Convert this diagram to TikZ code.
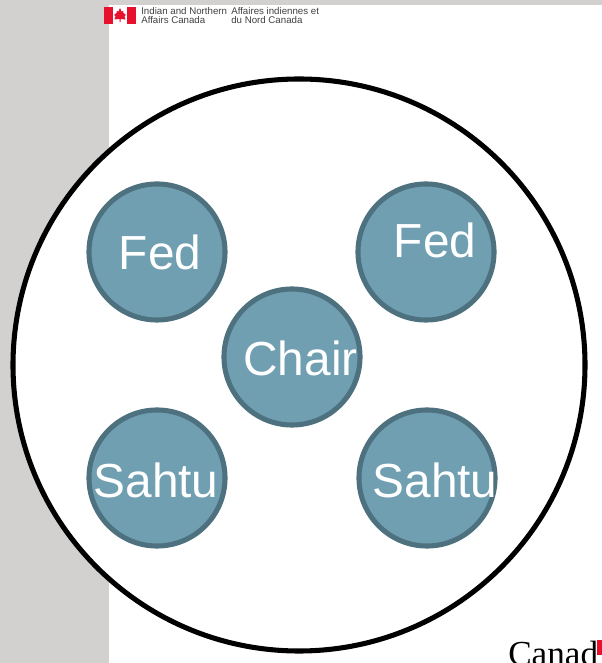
\documentclass[tikz,border=0pt]{standalone}
\usepackage{fontspec}
\setmainfont{Liberation Sans}
\newfontfamily\wordfont{Liberation Serif}
\definecolor{panelgrey}{HTML}{D2D1CF}
\definecolor{seatfill}{HTML}{6F9FB1}
\definecolor{seatedge}{HTML}{4E7180}
\definecolor{flagred}{HTML}{E8112D}
\tikzset{
	seat/.style={circle, draw=seatedge, fill=seatfill, line width=3.6pt, minimum size=3.4cm, inner sep=0pt},
	seatname/.style={text=white, font=\fontsize{34}{34}\selectfont, inner sep=0pt},
	deptname/.style={text=black!75, font=\fontsize{6.9}{6.6}\selectfont, align=left, inner sep=0pt, anchor=north west},
}

\begin{document}
\begin{tikzpicture}[x=0.025cm, y=0.025cm]
	%%%%% START %%%%%
	\clip (0, 0) rectangle (602, 663);
	\useasboundingbox (0, 0) rectangle (602, 663);

	\fill[panelgrey] (0, 0) rectangle (109, 663);
	\fill[panelgrey] (0, 658) rectangle (602, 663);

	% flag and department names
	\fill[white] (104, 639) rectangle (136, 656);
	\fill[flagred] (104, 639) rectangle (113, 656);
	\fill[flagred] (127, 639) rectangle (136, 656);
	\fill[flagred] (119.5, 641) -- (119.5, 644) -- (114.5, 643.5) -- (115.5, 647) -- (114, 648) -- (117, 650.5) -- (116.5, 652) -- (118.5, 651.5) -- (120, 655) -- (121.5, 651.5) -- (123.5, 652) -- (123, 650.5) -- (126, 648) -- (124.5, 647) -- (125.5, 643.5) -- (120.5, 644) -- (120.5, 641) -- cycle;
	\node[deptname] (deptEn) at (141, 656) {Indian and Northern\\Affairs Canada};
	\node[deptname] (deptFr) at (231, 656) {Affaires indiennes et\\du Nord Canada};

	\node[anchor=base west, inner sep=0pt, font=\wordfont\fontsize{25}{25}\selectfont] (wordmark) at (508, -3) {Canad};
	\fill[flagred] (597, 8) rectangle (602, 23);

	% table
	\draw[line width=3.6pt, fill=white] (299, 298) circle (286);

	\node[seat] (fedLeft) at (157, 411) {};
	\node[seat] (fedRight) at (426, 411) {};
	\node[seat] (chair) at (292, 306) {};
	\node[seat] (sahtuLeft) at (157, 185) {};
	\node[seat] (sahtuRight) at (427, 185) {};

	\node[seatname] at (160, 411) {Fed};
	\node[seatname] at (435, 423) {Fed};
	\node[seatname] at (300.5, 305) {Chair};
	\node[seatname] at (156, 183) {Sahtu};
	\node[seatname] at (435, 183) {Sahtu};
	%%%%% END %%%%%
\end{tikzpicture}
\end{document}
